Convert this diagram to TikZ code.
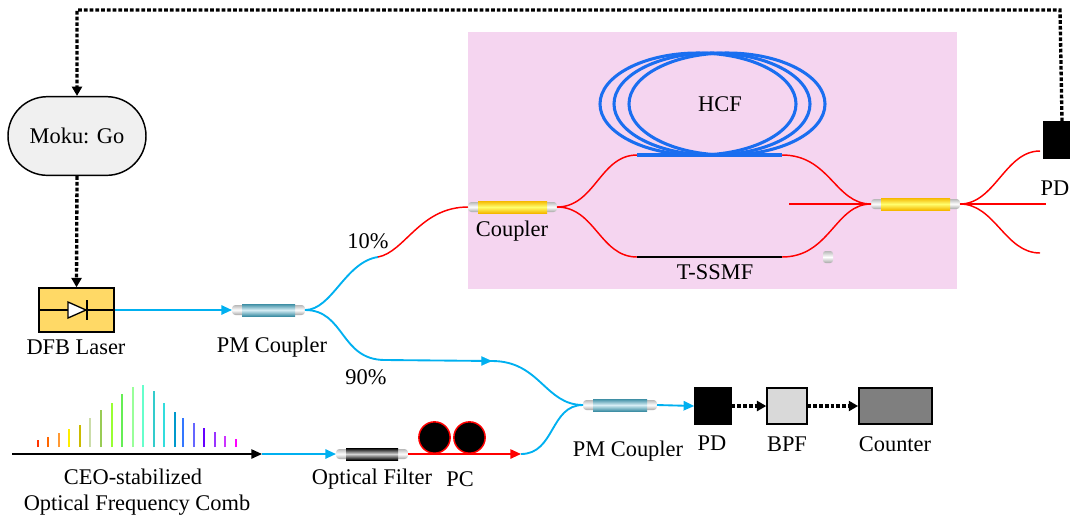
\documentclass[tikz,border=0pt]{standalone}
\usepackage{fontspec}
\setmainfont{Liberation Serif}
\usetikzlibrary{arrows.meta,shapes.misc}

\definecolor{fiberblue}{HTML}{00B0F0}
\definecolor{fiberred}{HTML}{FF0000}
\definecolor{hcfblue}{HTML}{1A6EF0}
\definecolor{pinkbg}{HTML}{F5D5F0}
\definecolor{laserfill}{HTML}{FFD966}
\definecolor{pmteal}{HTML}{3F8FA5}
\definecolor{pmlight}{HTML}{D6EEF5}
\definecolor{cplorange}{HTML}{F5B800}
\definecolor{cplyellow}{HTML}{FFFF70}
\definecolor{bpffill}{HTML}{D9D9D9}
\definecolor{counterfill}{HTML}{7F7F7F}
\definecolor{mokufill}{HTML}{F0F0F0}

\tikzset{
  lbl/.style={font=\fontsize{16.8}{19}\selectfont, inner sep=0pt},
  box/.style={draw=black, line width=1.1pt, inner sep=0pt},
  ctl/.style={line width=2.5pt, dash pattern=on 2.8pt off 1.5pt,
              -{Triangle[length=7pt,width=7.5pt]}},
  bluefiber/.style={fiberblue, line width=1.4pt},
  redfiber/.style={fiberred, line width=1.1pt},
  tipped/.style={-{Triangle[length=8pt,width=7pt]}},
  capshade/.style={top color=gray!55, bottom color=gray!70, middle color=white},
}

% fibre coupler: #1 name, #2 left x, #3 right x, #4 y, #5 outer colour, #6 inner colour
\newcommand\fcoupler[6]{%
  \shade[capshade, rounded corners=2.5pt] (#2,#4-5) rectangle (#2+14,#4+5);
  \shade[capshade, rounded corners=2.5pt] (#3-14,#4-5) rectangle (#3,#4+5);
  \shade[top color=#5, bottom color=#5, middle color=#6] (#2+10,#4-6) rectangle (#3-10,#4+6);
  \coordinate (#1-w) at (#2,#4);
  \coordinate (#1-e) at (#3,#4);
}

\begin{document}
\begin{tikzpicture}[x=0.75pt, y=-0.75pt]
\useasboundingbox (0,0) rectangle (1070,519);

% interferometer enclosure
\fill[pinkbg] (468,32) rectangle (957,289);

% ---------------- controller and laser ----------------
\node[box, rounded rectangle, fill=mokufill, minimum width=103.5pt,
      minimum height=59pt, lbl] (moku) at (77,136) {Moku: Go};
\node[box, fill=laserfill, minimum width=56pt, minimum height=33pt] (dfb) at (76.5,310) {};
\draw[line width=1pt] (dfb.west) -- (dfb.east);
\draw[line width=1pt, fill=white] (68,302) -- (86,310) -- (68,318) -- cycle;
\draw[line width=1.2pt] (87,300) -- (87,320);
\node[lbl] (dfblbl) at (76,347) {DFB Laser};

\draw[ctl] (moku.south) -- (dfb.north);

% ---------------- first PM coupler ----------------
\fcoupler{pma}{232}{305}{310}{pmteal}{pmlight}
\node[lbl] (pmalbl) at (272,347) {PM Coupler};
\draw[bluefiber, tipped] (dfb.east) -- (pma-w);

% 10 % branch
\coordinate (splice) at (378,257);
\draw[bluefiber] (pma-e) .. controls (332,310) and (345,262) .. (splice);
\node[lbl] (p10) at (368,241) {10\%};

% ---------------- interferometer ----------------
\fcoupler{cpa}{468}{557}{207}{cplorange}{cplyellow}
\node[lbl] (cpalbl) at (512,231) {Coupler};
\draw[redfiber] (splice) .. controls (405,252) and (420,207) .. (cpa-w);

\coordinate (hcfa) at (637,155);
\coordinate (hcfb) at (782,155);
\coordinate (smfa) at (637,257);
\coordinate (smfb) at (782,257);

\draw[redfiber] (cpa-e) .. controls (595,207) and (600,155) .. (hcfa);
\draw[redfiber] (cpa-e) .. controls (595,207) and (600,257) .. (smfa);

% hollow-core fibre coil
\foreach \cx in {698,712,727}
  \draw[hcfblue, line width=2.3pt] (\cx,104) ellipse [x radius=98, y radius=51];
\draw[hcfblue, line width=2.6pt] (hcfa) -- (hcfb);
\node[lbl] (hcflbl) at (720,104) {HCF};

% reference fibre
\draw[line width=1.2pt] (smfa) -- (smfb);
\node[lbl] (smflbl) at (715,272) {T-SSMF};

\fcoupler{cpb}{871}{960}{204}{cplorange}{cplyellow}
\draw[redfiber] (hcfb) .. controls (830,155) and (835,204) .. (cpb-w);
\draw[redfiber] (smfb) .. controls (830,257) and (835,204) .. (cpb-w);
\coordinate (stub) at (789,204);
\draw[fiberred, line width=1.8pt] (stub) -- (cpb-w);

% loose connector ferrule
\shade[capshade, rounded corners=2pt] (823,251) rectangle (833,263);

% output fibres and photodetector
\coordinate (outa) at (1040,151);
\coordinate (outb) at (1046,204);
\coordinate (outc) at (1040,253);
\draw[redfiber] (cpb-e) .. controls (995,204) and (1005,151) .. (outa);
\draw[redfiber] (cpb-e) -- (outb);
\draw[redfiber] (cpb-e) .. controls (995,204) and (1005,253) .. (outc);

\node[box, fill=black, minimum width=27pt, minimum height=27pt] (pdtop) at (1062,140) {};
\node[lbl] (pdtoplbl) at (1055,188) {PD};

% feedback to the controller
\draw[ctl] (pdtop.north) -- (1060,10) -| (moku.north);

% 90 % branch
\coordinate (mid) at (492,361);
\draw[bluefiber] (pma-e) .. controls (345,310) and (340,360) .. (385,360) -- (mid);
\draw[fiberblue, line width=0.1pt, tipped] (480,361) -- (mid);
\node[lbl] (p90) at (366,377) {90\%};

% ---------------- frequency comb ----------------
\foreach \x/\t/\c in {
   38/440/FF3300, 48/437/FF6600, 59/433/FF9933, 69/429/FFEE00, 80/425/CCBB00,
   90/418/CCDDAA, 101/410/99CC55, 112/403/99FF33, 122/394/66EE55, 133/387/99FF99,
   143/385/66FFCC, 154/391/33CCCC, 164/403/33DDDD, 175/412/0099CC, 183/418/3377FF,
   194/423/6666FF, 204/428/6600FF, 215/432/9933FF, 225/436/CC33FF, 236/439/FF00FF}
{
  \definecolor{barcol}{HTML}{\c}
  \draw[barcol, line width=1.7pt] (\x,447) -- (\x,\t);
}
\coordinate (combstart) at (12,454);
\coordinate (combend) at (262,454);
\draw[line width=1.2pt, tipped] (combstart) -- (combend);
\node[lbl] (comblbla) at (133,477) {CEO-stabilized};
\node[lbl] (comblblb) at (137,505) {Optical Frequency Comb};

% optical filter
\fcoupler{flt}{336}{408}{454}{black}{gray!35}
\node[lbl] (fltlbl) at (372,479) {Optical Filter};
\draw[bluefiber, tipped] (combend) -- (flt-w);

% polarisation controller
\node[circle, draw=fiberred, line width=1.1pt, fill=black, minimum size=23.5pt, inner sep=0pt] (pca) at (434.5,437.5) {};
\node[circle, draw=fiberred, line width=1.1pt, fill=black, minimum size=23.5pt, inner sep=0pt] (pcb) at (469.5,437.5) {};
\node[lbl] (pclbl) at (460,479) {PC};
\coordinate (pcout) at (521,454);
\draw[redfiber, line width=1.3pt, tipped] (flt-e) -- (pcout);

% ---------------- beat detection ----------------
\fcoupler{pmb}{583}{657}{405}{pmteal}{pmlight}
\node[lbl] (pmblbl) at (628,451) {PM Coupler};
\draw[bluefiber] (mid) .. controls (540,361) and (545,405) .. (pmb-w);
\draw[bluefiber] (pcout) .. controls (555,454) and (550,405) .. (pmb-w);

\node[box, fill=black, minimum width=27pt, minimum height=27pt] (pd) at (713,406) {};
\node[lbl] (pdlbl) at (712,443) {PD};
\node[box, fill=bpffill, minimum width=30pt, minimum height=27pt] (bpf) at (787,406) {};
\node[lbl] (bpflbl) at (787,444) {BPF};
\node[box, fill=counterfill, minimum width=55pt, minimum height=27pt] (counter) at (895.5,406) {};
\node[lbl] (counterlbl) at (895,444) {Counter};

\draw[bluefiber, tipped] (pmb-e) -- (pd.west);
\draw[ctl] (pd.east) -- (bpf.west);
\draw[ctl] (bpf.east) -- (counter.west);
\end{tikzpicture}
\end{document}
